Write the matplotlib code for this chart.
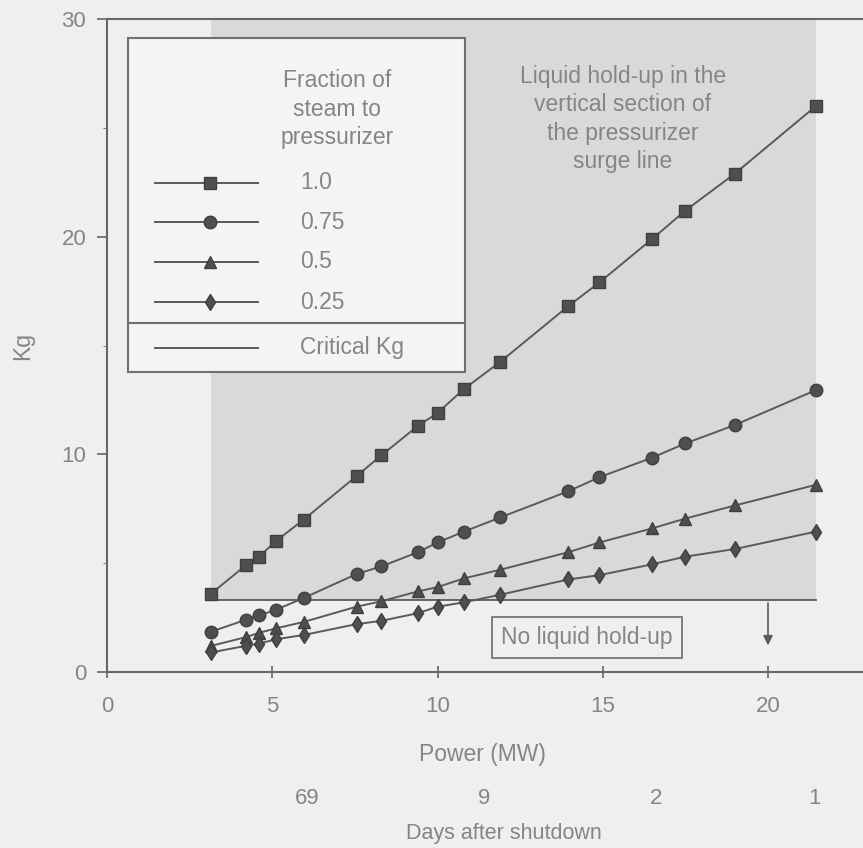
import matplotlib
matplotlib.use('Agg')
import matplotlib.pyplot as plt
import matplotlib.transforms as mtransforms
from matplotlib.lines import Line2D
from matplotlib.patches import Rectangle

plt.rcParams['font.family'] = ['Liberation Sans', 'DejaVu Sans']

# 数据
power = [3.15, 4.2, 4.6, 5.1, 5.95, 7.55, 8.3, 9.4, 10.0, 10.8, 11.9,
         13.95, 14.9, 16.5, 17.5, 19.0, 21.45]
kg_100 = [3.6, 4.9, 5.3, 6.0, 7.0, 9.0, 9.95, 11.3, 11.9, 13.0, 14.25,
          16.8, 17.9, 19.9, 21.2, 22.9, 26.0]
kg_075 = [1.85, 2.4, 2.6, 2.85, 3.4, 4.5, 4.85, 5.5, 5.95, 6.45, 7.1,
          8.3, 8.95, 9.85, 10.5, 11.35, 12.95]
kg_050 = [1.2, 1.6, 1.8, 2.0, 2.3, 3.0, 3.25, 3.7, 3.9, 4.3, 4.7,
          5.5, 5.95, 6.6, 7.05, 7.65, 8.6]
kg_025 = [0.9, 1.2, 1.3, 1.5, 1.7, 2.2, 2.35, 2.7, 3.0, 3.2, 3.55,
          4.25, 4.45, 4.95, 5.3, 5.65, 6.45]
fractions = ['1.0', '0.75', '0.5', '0.25']
markers = ['s', 'o', '^', 'd']
critical_kg = 3.3
arrow_power = 20
days_pos = [6.05, 11.4, 16.6, 21.4]
days_labels = ['69', '9', '2', '1']

bg = '#efefed'
txt = '#858585'
ink = '#5a5a5a'
fs = 16.5

fig = plt.figure(figsize=(8.63, 8.48), dpi=100, facecolor=bg)
ax = fig.add_axes([107 / 863, 176 / 848, 756 / 863, 653 / 848])
ax.set_facecolor(bg)
ax.set_xlim(0, 756 / 33.05)
ax.set_ylim(0, 30)

# 阴影区 (液体滞留区)
ax.fill_between([power[0], power[-1]], critical_kg, 30, color='#d9d9d7', lw=0, zorder=0)
ax.plot([power[0], power[-1]], [critical_kg, critical_kg], color=ink, lw=1.3, zorder=2)

series = [kg_100, kg_075, kg_050, kg_025]
sizes = [9, 9, 8.5, 8]
for vals, m, ms in zip(series, markers, sizes):
    ax.plot(power, vals, color=ink, lw=1.4, marker=m, ms=ms,
            mfc='#4f4f4f', mec='#3f3f3f', zorder=3)

ax.spines['right'].set_visible(False)
for side in ['left', 'bottom', 'top']:
    ax.spines[side].set_color('#666666')
    ax.spines[side].set_linewidth(1.5)

ax.set_xticks([0, 5, 10, 15, 20])
ax.set_yticks([0, 10, 20, 30])
ax.set_yticks([5, 15, 25], minor=True)
ax.tick_params(axis='x', direction='inout', length=9, width=1.2, colors='#666666',
               labelcolor=txt, labelsize=fs - 0.5, pad=13)
ax.tick_params(axis='y', direction='out', length=7, width=1.2, colors='#666666',
               labelcolor=txt, labelsize=fs - 0.5, pad=8)
ax.tick_params(axis='y', which='minor', direction='out', length=3, colors='#666666')

ax.set_ylabel('Kg', color=txt, fontsize=fs)
ax.yaxis.set_label_coords(-0.097, 0.5)

# 横轴说明
fig.text(482 / 863, 1 - 754 / 848, 'Power (MW)', ha='center', va='center',
         color=txt, fontsize=fs)
trans = mtransforms.blended_transform_factory(ax.transData, fig.transFigure)
for p, d in zip(days_pos, days_labels):
    ax.text(p, 1 - 798 / 848, d, transform=trans, ha='center', va='center',
            color=txt, fontsize=fs - 0.5)
fig.text(504 / 863, 1 - 834 / 848, 'Days after shutdown', ha='center', va='center',
         color=txt, fontsize=15.5)

# 注释
ax.text(15.6, 25.4, 'Liquid hold-up in the\nvertical section of\nthe pressurizer\nsurge line',
        ha='center', va='center', color=txt, fontsize=fs, linespacing=1.3, zorder=4)
ax.text(14.52, 1.6, 'No liquid hold-up', ha='center', va='center', color=txt, fontsize=fs,
        zorder=4, bbox=dict(boxstyle='square,pad=0.4', fc=bg, ec='#777777', lw=1.3))
ax.annotate('', xy=(arrow_power, 1.1), xytext=(arrow_power, critical_kg),
            arrowprops=dict(arrowstyle='-|>', color=ink, lw=1.2, mutation_scale=14),
            zorder=4)

# 图例 (手工绘制)
ta = ax.transAxes
box_l, box_r, box_t, box_b, div_y = 0.0278, 0.4735, 0.9709, 0.4594, 0.5345
ax.add_patch(Rectangle((box_l, box_b), box_r - box_l, box_t - box_b, transform=ta,
                       fc='#f4f4f2', ec='#707070', lw=1.5, zorder=5))
ax.add_line(Line2D([box_l, box_r], [div_y, div_y], transform=ta, color='#707070',
                   lw=1.5, zorder=6))
ax.text(0.304, 0.862, 'Fraction of\nsteam to\npressurizer', transform=ta, ha='center',
        va='center', color=txt, fontsize=fs, linespacing=1.3, zorder=6)
rows = [0.7489, 0.6891, 0.6279, 0.5666]
for y, m, lab, ms in zip(rows, markers, fractions, sizes):
    ax.add_line(Line2D([0.0635, 0.1997], [y, y], transform=ta, color=ink, lw=1.4, zorder=6))
    ax.add_line(Line2D([0.136], [y], transform=ta, marker=m, ms=ms, mfc='#4f4f4f',
                       mec='#3f3f3f', zorder=7))
    ax.text(0.2553, y, lab, transform=ta, ha='left', va='center', color=txt,
            fontsize=fs, zorder=6)
ax.add_line(Line2D([0.0635, 0.1997], [0.4962, 0.4962], transform=ta, color=ink,
                   lw=1.4, zorder=6))
ax.text(0.2553, 0.4962, 'Critical Kg', transform=ta, ha='left', va='center',
        color=txt, fontsize=fs, zorder=6)

fig.savefig('out.png', dpi=100, facecolor=bg)
plt.close(fig)
